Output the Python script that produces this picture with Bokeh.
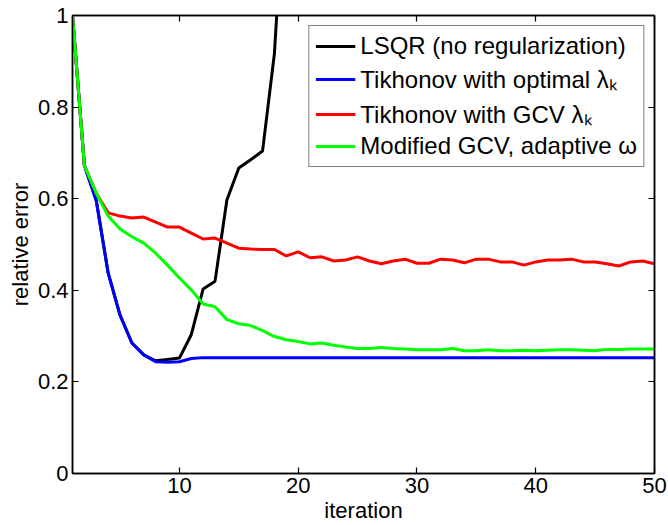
from bokeh.plotting import figure
from bokeh.models import LinearAxis, FixedTicker, Range1d, CustomJSTickFormatter
from bokeh.embed import file_html
from bokeh.resources import INLINE

# ---- data ----
iters_lsqr = list(range(1, 20))
lsqr = [1.0, 0.673, 0.597, 0.438, 0.346, 0.285, 0.259, 0.246, 0.249, 0.252,
        0.303, 0.403, 0.420, 0.597, 0.667, 0.685, 0.704, 0.917, 1.35]

iters = list(range(1, 51))
tik_opt = [1.0, 0.673, 0.595, 0.438, 0.346, 0.285, 0.259, 0.244, 0.243, 0.244,
           0.251, 0.253, 0.253, 0.253, 0.253, 0.253, 0.253, 0.253, 0.253, 0.253,
           0.253, 0.253, 0.253, 0.253, 0.253, 0.253, 0.253, 0.253, 0.253, 0.253,
           0.253, 0.253, 0.253, 0.253, 0.253, 0.253, 0.253, 0.253, 0.253, 0.253,
           0.253, 0.253, 0.253, 0.253, 0.253, 0.253, 0.253, 0.253, 0.253, 0.253]
tik_gcv = [1.0, 0.673, 0.612, 0.569, 0.562, 0.558, 0.560, 0.549, 0.538, 0.538,
           0.525, 0.512, 0.514, 0.503, 0.492, 0.490, 0.489, 0.489, 0.475, 0.484,
           0.471, 0.473, 0.464, 0.466, 0.473, 0.464, 0.458, 0.464, 0.468, 0.459,
           0.459, 0.468, 0.466, 0.460, 0.468, 0.468, 0.462, 0.462, 0.455, 0.462,
           0.466, 0.466, 0.468, 0.462, 0.462, 0.458, 0.453, 0.462, 0.464, 0.458]
mod_gcv = [1.0, 0.673, 0.612, 0.562, 0.534, 0.517, 0.503, 0.481, 0.455, 0.427,
           0.401, 0.370, 0.364, 0.336, 0.327, 0.323, 0.312, 0.299, 0.292, 0.288,
           0.283, 0.285, 0.280, 0.276, 0.273, 0.273, 0.275, 0.273, 0.272, 0.270,
           0.270, 0.270, 0.273, 0.268, 0.268, 0.270, 0.268, 0.268, 0.269, 0.268,
           0.269, 0.270, 0.270, 0.269, 0.268, 0.271, 0.271, 0.272, 0.272, 0.272]

x_ticks = [10, 20, 30, 40, 50]
y_ticks = [0, 0.2, 0.4, 0.6, 0.8, 1]
y_tick_labels = {0: "0", 0.2: "0.2", 0.4: "0.4", 0.6: "0.6", 0.8: "0.8", 1: "1"}

labels = ["LSQR (no regularization)",
          "Tikhonov with optimal \u03bb\u2096",
          "Tikhonov with GCV \u03bb\u2096",
          "Modified GCV, adaptive \u03c9"]

FONT = "Liberation Sans"

p = figure(width=668, height=525, output_backend="svg", toolbar_location=None,
           x_range=Range1d(1, 50), y_range=Range1d(0, 1),
           min_border_left=72, min_border_right=14, min_border_top=15,
           min_border_bottom=51)
p.grid.visible = False
p.outline_line_color = "black"
p.outline_line_width = 1.5
p.background_fill_color = "white"
p.border_fill_color = "white"

p.line(iters_lsqr, lsqr, color="black", line_width=3, legend_label=labels[0])
p.line(iters, tik_opt, color="#0000ff", line_width=3, legend_label=labels[1])
p.line(iters, tik_gcv, color="#ff0000", line_width=3, legend_label=labels[2])
p.line(iters, mod_gcv, color="#00ff00", line_width=3, legend_label=labels[3])

def style(ax, ticks, show):
    ax.ticker = FixedTicker(ticks=ticks)
    ax.minor_tick_line_color = None
    ax.major_tick_in = 6
    ax.major_tick_out = 0
    ax.axis_line_color = "black"
    ax.axis_line_width = 1.5
    ax.major_tick_line_width = 1.2
    ax.major_label_text_font = FONT
    ax.major_label_text_color = "black"
    if show:
        ax.major_label_text_font_size = "22px"
        ax.major_label_standoff = 4
        ax.axis_label_text_font = FONT
        ax.axis_label_text_font_size = "22px"
        ax.axis_label_text_font_style = "normal"
        ax.axis_label_text_color = "black"
        ax.axis_label_standoff = 2
    else:
        ax.formatter = CustomJSTickFormatter(code="return ''")
        ax.major_label_standoff = 0

xa = p.xaxis[0]
style(xa, x_ticks, True)
xa.axis_label = "iteration"
ya = p.yaxis[0]
style(ya, y_ticks, True)
ya.axis_label = "relative error"
ya.major_label_overrides = y_tick_labels

top = LinearAxis()
style(top, x_ticks, False)
p.add_layout(top, "above")
right = LinearAxis()
style(right, y_ticks, False)
p.add_layout(right, "right")

lg = p.legend[0]
lg.location = "top_right"
lg.margin = 10
lg.border_line_color = "black"
lg.border_line_width = 1.2
lg.background_fill_alpha = 1
lg.label_text_font = FONT
lg.label_text_font_size = "24px"
lg.label_text_color = "black"
lg.glyph_width = 40
lg.glyph_height = 26
lg.label_height = 26
lg.label_standoff = 5
lg.spacing = 2
lg.padding = 6

open("out.html", "w").write(file_html(p, INLINE))
